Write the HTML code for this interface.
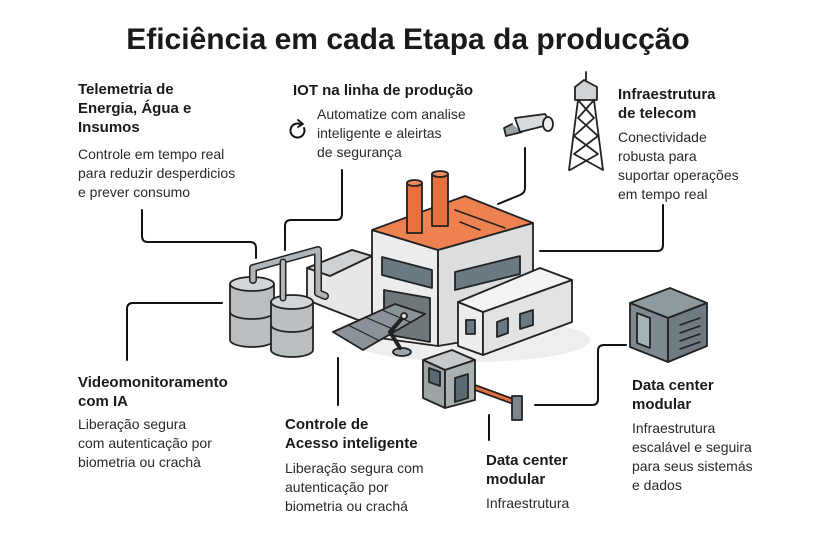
<!DOCTYPE html>
<html><head><meta charset="utf-8"><style>
html,body{margin:0;padding:0;background:#fff}
body{width:816px;height:544px;position:relative;overflow:hidden;font-family:"Liberation Sans",sans-serif;color:#1a1a1a}
.t{position:absolute;white-space:nowrap}
.h{font-weight:bold;font-size:15px;line-height:19px}
.p{font-size:14px;line-height:19px;color:#2a2a2a}
</style></head><body>
<svg width="816" height="544" style="position:absolute;left:0;top:0" stroke-linejoin="round" stroke-linecap="round">
<g fill="none" stroke="#111" stroke-width="2">
<path d="M142 210 V236 Q142 242 148 242 H250 Q256 242 256 248 V258"/>
<path d="M342 170 V214 Q342 220 336 220 H291 Q285 220 285 226 V250"/>
<path d="M525 148 V188 Q525 193 520 195 L498 204"/>
<path d="M663 205 V245 Q663 251 657 251 H540"/>
<path d="M222 303 H133 Q127 303 127 309 V360"/>
<path d="M338 358 V405"/>
<path d="M489 415 V440"/>
<path d="M535 405 H592 Q598 405 598 399 V351 Q598 345 604 345 H626"/>
</g>
<ellipse cx="470" cy="340" rx="120" ry="22" fill="#eee"/>
<g stroke="#222" stroke-width="1.8">
<polygon points="307,268 352,250 372,256 372,318 358,320 307,300" fill="#e6e7e8"/>
<polygon points="307,268 352,250 372,256 330,276" fill="#cfd2d4"/>
<polygon points="372,230 438,250 438,346 372,337" fill="#ececec"/>
<polygon points="438,250 533,223 533,330 438,346" fill="#dcdddf"/>
<polygon points="372,230 465,196 533,223 438,250" fill="#ee8150"/>
<line x1="455" y1="210" x2="505" y2="228" stroke-width="1.5"/>
<line x1="460" y1="222" x2="480" y2="230" stroke-width="1.5"/>
<polygon points="382,257 432,270 432,288 382,275" fill="#6b7a82"/>
<polygon points="455,272 520,256 520,274 455,290" fill="#6b7a82"/>
<polygon points="384,290 430,298 430,342 384,334" fill="#6f777a"/>
<rect x="407" y="183" width="15" height="50" fill="#e8703c"/>
<ellipse cx="414.5" cy="183" rx="7.5" ry="3" fill="#f08a5a"/>
<rect x="432" y="174" width="16" height="52" fill="#e8703c"/>
<ellipse cx="440" cy="174" rx="8" ry="3" fill="#f08a5a"/>
<polygon points="458,302 483,312 483,355 458,346" fill="#ececec"/>
<polygon points="483,312 572,280 572,322 483,355" fill="#e2e3e4"/>
<polygon points="458,302 540,268 572,280 483,312" fill="#f3f3f3"/>
<rect x="466" y="320" width="9" height="14" fill="#6b7a82"/>
<polygon points="497,322 508,318 508,333 497,337" fill="#6b7a82"/>
<polygon points="520,314 533,310 533,325 520,329" fill="#6b7a82"/>
<path d="M230 284 V340 A22 7 0 0 0 274 340 V284" fill="#b9bec1"/>
<ellipse cx="252" cy="284" rx="22" ry="7" fill="#d2d6d8"/>
<path d="M230 312 A22 7 0 0 0 274 312" fill="none"/>
<path d="M271 302 V350 A21 7 0 0 0 313 350 V302" fill="#b9bec1"/>
<ellipse cx="292" cy="302" rx="21" ry="7" fill="#d2d6d8"/>
<path d="M271 325 A21 7 0 0 0 313 325" fill="none"/>
<path d="M253 280 V268 L318 250 V293 L325 296" fill="none" stroke="#222" stroke-width="8"/>
<path d="M253 280 V268 L318 250 V293 L325 296" fill="none" stroke="#aeb4b8" stroke-width="5"/>
<path d="M283 262 V298" fill="none" stroke="#222" stroke-width="7"/>
<path d="M283 262 V298" fill="none" stroke="#aeb4b8" stroke-width="4"/>
<polygon points="333,332 395,304 425,314 363,350" fill="#8a9498"/>
<line x1="348" y1="325" x2="378" y2="340" stroke-width="1.2"/>
<line x1="365" y1="317" x2="395" y2="330" stroke-width="1.2"/>
<line x1="382" y1="310" x2="410" y2="322" stroke-width="1.2"/>
<ellipse cx="402" cy="352" rx="9" ry="4" fill="#9aa3a7"/>
<path d="M400 348 L390 332 L404 316" fill="none" stroke-width="4"/>
<circle cx="404" cy="316" r="3" fill="#ddd"/>
<polygon points="423,360 452,350 475,360 445,370" fill="#c6cacc"/>
<polygon points="423,360 445,370 445,408 423,398" fill="#9ca4a8"/>
<polygon points="445,370 475,360 475,400 445,408" fill="#a9b0b4"/>
<polygon points="429,368 440,372 440,386 429,382" fill="#5b6a72"/>
<polygon points="455,378 468,374 468,398 455,402" fill="#5b6a72"/>
<polygon points="475,385 516,400 516,405 475,390" fill="#e8703c"/>
<rect x="512" y="396" width="10" height="24" fill="#7d878c"/>
<path d="M512 124 L504 128 L506 136 L522 132" fill="#9aa3a7"/>
<polygon points="515,118 545,114 552,124 520,132" fill="#d8dbdd"/>
<ellipse cx="548" cy="124" rx="5" ry="7" fill="#eee"/>
<polygon points="575,87 584,80 597,87 597,100 575,100" fill="#cfd3d5"/>
<line x1="586" y1="72" x2="586" y2="80"/>
<path d="M578 100 L569 170 M594 100 L603 170 M578 100 L594 118 L574 136 L598 154 L570 170 M594 100 L578 118 L598 136 L574 154 L603 170" fill="none"/>
<polygon points="630,303 670,288 707,303 668,318" fill="#8e9a9e"/>
<polygon points="630,303 668,318 668,362 630,347" fill="#7d898e"/>
<polygon points="668,318 707,303 707,346 668,362" fill="#6f7b80"/>
<polygon points="637,313 650,318 650,348 637,343" fill="#a6b3b6"/>
<line x1="680" y1="325" x2="700" y2="318" stroke-width="1.5"/>
<line x1="680" y1="333" x2="700" y2="326" stroke-width="1.5"/>
<line x1="680" y1="341" x2="700" y2="334" stroke-width="1.5"/>
<line x1="680" y1="349" x2="700" y2="342" stroke-width="1.5"/>
</g>
<path d="M300 124 A7 7 0 1 0 304 128" fill="none" stroke="#111" stroke-width="2"/>
<path d="M298 120 L303 124 L298 127" fill="none" stroke="#111" stroke-width="1.8"/>
</svg>
<div class="t" style="left:0;width:816px;text-align:center;top:22px;font-size:30px;font-weight:bold;line-height:36px">Eficiência em cada Etapa da producção</div>
<div class="t h" style="left:78px;top:80px">Telemetria de<br>Energia, Água e<br>Insumos</div>
<div class="t p" style="left:78px;top:145px">Controle em tempo real<br>para reduzir desperdicios<br>e prever consumo</div>
<div class="t h" style="left:293px;top:81px">IOT na linha de produção</div>
<div class="t p" style="left:317px;top:105px">Automatize com analise<br>inteligente e aleirtas<br>de segurança</div>
<div class="t h" style="left:618px;top:85px">Infraestrutura<br>de telecom</div>
<div class="t p" style="left:618px;top:128px">Conectividade<br>robusta para<br>suportar operações<br>em tempo real</div>
<div class="t h" style="left:78px;top:373px">Videomonitoramento<br>com IA</div>
<div class="t p" style="left:78px;top:415px">Liberação segura<br>com autenticação por<br>biometria ou crachà</div>
<div class="t h" style="left:285px;top:415px">Controle de<br>Acesso inteligente</div>
<div class="t p" style="left:285px;top:459px">Liberação segura com<br>autenticação por<br>biometria ou crachá</div>
<div class="t h" style="left:486px;top:451px">Data center<br>modular</div>
<div class="t p" style="left:486px;top:494px">Infraestrutura</div>
<div class="t h" style="left:632px;top:376px">Data center<br>modular</div>
<div class="t p" style="left:632px;top:419px">Infraestrutura<br>escalável e seguira<br>para seus sistemás<br>e dados</div>
</body></html>
